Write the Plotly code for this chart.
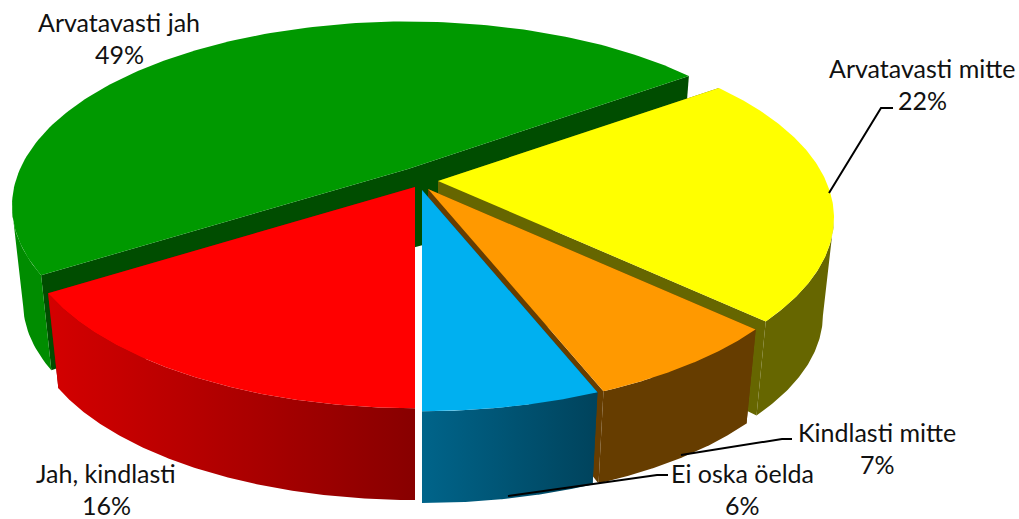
import numpy as np
import plotly.graph_objects as go

categories = ["Jah, kindlasti", "Arvatavasti jah", "Arvatavasti mitte", "Kindlasti mitte", "Ei oska öelda"]
percents = [16, 49, 22, 7, 6]
top_colors = ["#FF0000", "#009900", "#FFFF00", "#FF9900", "#00B0F0"]
wall_left = ["#D40000", "#008C00", "#666600", "#663D00", "#00648A"]
wall_right = ["#880000", "#008C00", "#666600", "#663D00", "#00435C"]
radial_colors = ["#880000", "#004D00", "#666600", "#663D00", "#00435C"]
centers = [(415, 187), (408, 169), (438, 181), (428, 189), (422, 190)]
draw_order = [1, 2, 3, 4, 0]
label_pos = [(106, 473), (119, 22), (922, 68), (877, 432), (742, 473)]
leaders = [
    ([829, 881, 893], [193, 108, 108]),
    ([681, 782, 792], [455, 439, 439]),
    ([508, 657, 668], [496, 475, 475]),
]

A, B, K, DEPTH, SCALE = 388.0, 177.0, 0.2, 98.0, 0.972
APEX_DEPTH = 80.0
LINE_H = 32


def project(phi, cx, cy, bottom=False):
    x_u, y_u = -np.sin(phi), np.cos(phi)
    d = 1 - K * y_u
    px, py = A * x_u / d, B * y_u / d
    if bottom:
        return cx + SCALE * px, cy + DEPTH + SCALE * py
    return cx + px, cy + py


def to_xy(x, y):
    return list(np.round(x, 2)), list(np.round(y, 2))


fig = go.Figure()
fractions = np.array(percents) / sum(percents)
edges = np.concatenate([[0], np.cumsum(fractions)]) * 2 * np.pi


def poly(x, y, color=None, grad=None):
    kw = dict(x=x, y=y, mode="lines", fill="toself", line=dict(width=0), hoverinfo="skip", showlegend=False)
    if grad:
        kw["fillgradient"] = dict(type="horizontal", colorscale=[[0, grad[0]], [1, grad[1]]])
    else:
        kw["fillcolor"] = color
    fig.add_trace(go.Scatter(**kw))


for i in draw_order:
    cx, cy = centers[i]
    phi = np.linspace(edges[i], edges[i + 1], 160)
    tx, ty = project(phi, cx, cy)
    bx, by = project(phi, cx, cy, True)
    # radial walls first, so the outer wall and top face lie over them
    for end in (edges[i], edges[i + 1]):
        ex, ey = project(end, cx, cy)
        fx, fy = project(end, cx, cy, True)
        poly([cx, ex, fx, cx, cx], [cy, ey, fy, cy + APEX_DEPTH, cy], radial_colors[i])
    # outer wall: from the silhouette tangent round the part facing the viewer
    front = np.cos(phi) > K
    if front.any():
        wx = np.concatenate([tx[front], bx[front][::-1]])
        wy = np.concatenate([ty[front], by[front][::-1]])
        x, y = to_xy(wx, wy)
        if wall_left[i] == wall_right[i]:
            poly(x, y, wall_left[i])
        else:
            poly(x, y, grad=(wall_left[i], wall_right[i]))
    # top face
    x, y = to_xy(np.concatenate([[cx], tx, [cx]]), np.concatenate([[cy], ty, [cy]]))
    poly(x, y, top_colors[i])

for lx, ly in leaders:
    fig.add_trace(go.Scatter(x=lx, y=ly, mode="lines", line=dict(color="black", width=2),
                             hoverinfo="skip", showlegend=False))

for name, pct, (x, y) in zip(categories, percents, label_pos):
    for text, yy in ((name, y), (f"{pct}%", y + LINE_H)):
        fig.add_annotation(x=x, y=yy, text=text, showarrow=False, xanchor="center", yanchor="middle",
                           font=dict(family="Lato", size=25, color="#111111"))

fig.update_layout(
    width=1019, height=519, margin=dict(l=0, r=0, t=0, b=0),
    paper_bgcolor="white", plot_bgcolor="white",
    xaxis=dict(range=[0, 1019], visible=False, fixedrange=True),
    yaxis=dict(range=[519, 0], visible=False, fixedrange=True),
    showlegend=False,
)
fig.write_html("out.html", config={"displayModeBar": False},
               post_script="document.body.style.margin='0';document.body.style.overflow='hidden';")
